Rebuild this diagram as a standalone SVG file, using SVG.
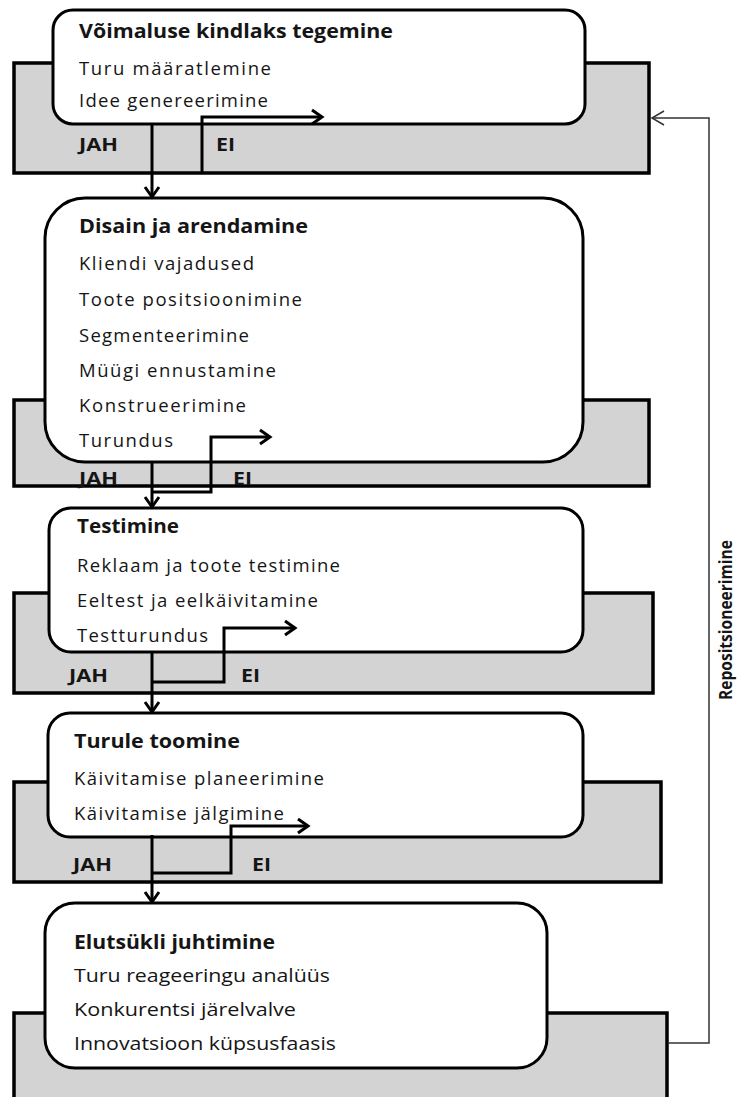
<svg xmlns="http://www.w3.org/2000/svg" width="739" height="1097" viewBox="0 0 739 1097">
<style>
.band{fill:#d3d3d3;stroke:#000;stroke-width:3.5}
.box{fill:#fff;stroke:#000;stroke-width:3}
.t{font-family:"Open Sans","Liberation Sans",sans-serif;fill:#151515}
.h{font-size:19px;font-weight:bold}
.i{font-size:18.5px}
.yn{font-size:17px;font-weight:bold}
.c{fill:none;stroke:#000;stroke-width:3}
.r{fill:none;stroke:#333;stroke-width:1.5}
</style>
<defs>
<marker id="a" markerUnits="userSpaceOnUse" markerWidth="20" markerHeight="20" refX="12" refY="10" orient="auto">
<path d="M2,3 L12,10 L2,17" fill="none" stroke="#000" stroke-width="3"/>
</marker>
<marker id="b" markerUnits="userSpaceOnUse" markerWidth="20" markerHeight="20" refX="13" refY="10" orient="auto">
<path d="M1,3 L13,10 L1,17" fill="none" stroke="#333" stroke-width="1.5"/>
</marker>
</defs>

<g id="bands">
<rect class="band" x="14" y="63" width="635" height="110"/>
<rect class="band" x="14" y="400" width="635" height="86"/>
<rect class="band" x="14" y="593" width="639" height="100"/>
<rect class="band" x="14" y="782" width="647" height="100"/>
<rect class="band" x="14" y="1013" width="653" height="100"/>
</g>

<g id="node1">
<rect class="box" x="53" y="10" width="532" height="114" rx="20"/>
<text class="t h" x="79" y="38" textLength="314" lengthAdjust="spacingAndGlyphs">Võimaluse  kindlaks tegemine</text>
<text class="t i" x="79" y="75" textLength="192" lengthAdjust="spacing">Turu määratlemine</text>
<text class="t i" x="79" y="107" textLength="189" lengthAdjust="spacing">Idee genereerimine</text>
<text class="t yn" x="79" y="151" textLength="39" lengthAdjust="spacingAndGlyphs">JAH</text>
<text class="t yn" x="216" y="151" textLength="19" lengthAdjust="spacingAndGlyphs">EI</text>
</g>

<g id="node2">
<rect class="box" x="45" y="198" width="538" height="264" rx="40"/>
<text class="t h" x="79" y="233" textLength="229" lengthAdjust="spacingAndGlyphs">Disain ja arendamine</text>
<text class="t i" x="79" y="270" textLength="175" lengthAdjust="spacing">Kliendi vajadused</text>
<text class="t i" x="79" y="306" textLength="223" lengthAdjust="spacing">Toote positsioonimine</text>
<text class="t i" x="79" y="342" textLength="170" lengthAdjust="spacing">Segmenteerimine</text>
<text class="t i" x="79" y="377" textLength="197" lengthAdjust="spacing">Müügi ennustamine</text>
<text class="t i" x="79" y="412" textLength="167" lengthAdjust="spacing">Konstrueerimine</text>
<text class="t i" x="79" y="447" textLength="94" lengthAdjust="spacing">Turundus</text>
<text class="t yn" x="79" y="485" textLength="39" lengthAdjust="spacingAndGlyphs">JAH</text>
<text class="t yn" x="233" y="485" textLength="19" lengthAdjust="spacingAndGlyphs">EI</text>
</g>

<g id="node3">
<rect class="box" x="49" y="508" width="534" height="144" rx="22"/>
<text class="t h" x="77" y="533" textLength="102" lengthAdjust="spacingAndGlyphs">Testimine</text>
<text class="t i" x="77" y="572" textLength="263" lengthAdjust="spacing">Reklaam ja toote testimine</text>
<text class="t i" x="77" y="607" textLength="241" lengthAdjust="spacing">Eeltest ja eelkäivitamine</text>
<text class="t i" x="77" y="642" textLength="131" lengthAdjust="spacing">Testturundus</text>
<text class="t yn" x="69" y="682" textLength="39" lengthAdjust="spacingAndGlyphs">JAH</text>
<text class="t yn" x="241" y="682" textLength="19" lengthAdjust="spacingAndGlyphs">EI</text>
</g>

<g id="node4">
<rect class="box" x="48" y="713" width="535" height="124" rx="22"/>
<text class="t h" x="74" y="748" textLength="166" lengthAdjust="spacingAndGlyphs">Turule toomine</text>
<text class="t i" x="74" y="785" textLength="250" lengthAdjust="spacing">Käivitamise planeerimine</text>
<text class="t i" x="74" y="820" textLength="210" lengthAdjust="spacing">Käivitamise jälgimine</text>
<text class="t yn" x="73" y="871" textLength="39" lengthAdjust="spacingAndGlyphs">JAH</text>
<text class="t yn" x="252" y="871" textLength="19" lengthAdjust="spacingAndGlyphs">EI</text>
</g>

<g id="node5">
<rect class="box" x="45" y="903" width="502" height="165" rx="30"/>
<text class="t h" x="74" y="949" textLength="201" lengthAdjust="spacingAndGlyphs">Elutsükli juhtimine</text>
<text class="t i" x="74" y="982" textLength="256" lengthAdjust="spacingAndGlyphs">Turu reageeringu analüüs</text>
<text class="t i" x="74" y="1016" textLength="222" lengthAdjust="spacingAndGlyphs">Konkurentsi järelvalve</text>
<text class="t i" x="74" y="1050" textLength="262" lengthAdjust="spacingAndGlyphs">Innovatsioon küpsusfaasis</text>
</g>

<g id="connectors">
<path class="c" d="M152,124 V197" marker-end="url(#a)"/>
<path class="c" d="M202,172 V117 H322" marker-end="url(#a)"/>
<path class="c" d="M152,462 V507" marker-end="url(#a)"/>
<path class="c" d="M152,492 H211 V437 H270" marker-end="url(#a)"/>
<path class="c" d="M152,652 V712" marker-end="url(#a)"/>
<path class="c" d="M152,682 H224 V628 H295" marker-end="url(#a)"/>
<path class="c" d="M152,835 V902" marker-end="url(#a)"/>
<path class="c" d="M152,873 H231 V826 H308" marker-end="url(#a)"/>
<path class="r" d="M668,1043 H709 V118 H652" marker-end="url(#b)"/>
</g>

<g id="label-reposition">
<text class="t" x="0" y="0" transform="translate(732,620) rotate(-90)" text-anchor="middle" font-size="17" font-weight="bold" textLength="160" lengthAdjust="spacingAndGlyphs">Repositsioneerimine</text>
</g>
</svg>
